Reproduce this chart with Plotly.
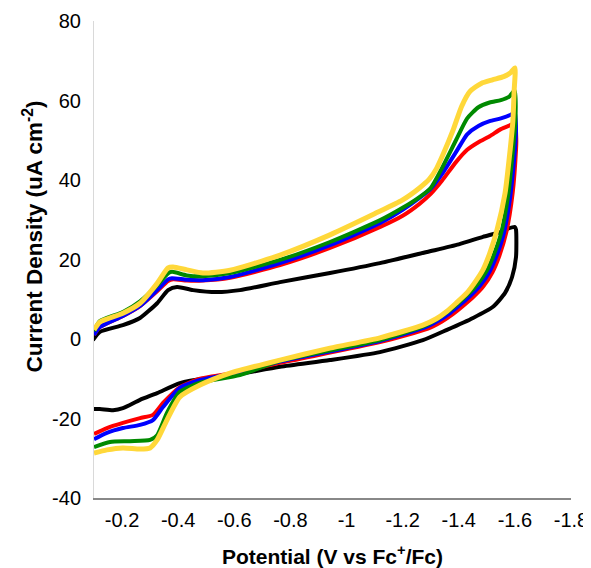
import plotly.graph_objects as go

# ---- data (potential V vs Fc+/Fc, current density uA cm^-2) ----
black_x = [-0.096, -0.121, -0.203, -0.264, -0.325, -0.364, -0.396, -0.453, -0.538, -0.620, -0.763, -0.941,
           -1.119, -1.287, -1.400, -1.486, -1.547, -1.572, -1.600,
           -1.604, -1.604, -1.590, -1.565, -1.522, -1.451, -1.358, -1.272, -1.119, -0.941, -0.763,
           -0.585, -0.503, -0.406, -0.325, -0.264, -0.203, -0.168, -0.121, -0.100]
black_y = [-0.3, 1.8, 3.5, 5.3, 9.0, 12.3, 13.1, 12.3, 11.8, 12.3, 14.3, 16.6,
           19.1, 21.9, 23.8, 25.7, 26.9, 27.7, 28.2,
           27.5, 20.6, 15.6, 11.6, 8.1, 5.3, 2.3, -0.3, -3.3, -5.3, -7.0,
           -9.2, -9.8, -11.1, -13.6, -15.3, -17.4, -17.9, -17.6, -17.6]

red_x = [-0.100, -0.121, -0.203, -0.264, -0.325, -0.364, -0.382, -0.431, -0.488, -0.585, -0.763, -0.941,
         -1.120, -1.200, -1.260, -1.300, -1.340, -1.390, -1.430, -1.470, -1.510, -1.550, -1.580, -1.600,
         -1.605, -1.604, -1.592, -1.570, -1.545, -1.520, -1.487, -1.455, -1.415, -1.380, -1.340, -1.290,
         -1.119, -0.763, -0.620, -0.478, -0.406, -0.346, -0.310, -0.264, -0.203, -0.146, -0.100]
red_y = [1.0, 3.0, 5.8, 8.3, 12.0, 14.6, 15.0, 14.7, 14.7, 15.4, 18.6, 22.9,
         28.2, 31.0, 34.0, 36.5, 39.8, 44.5, 47.6, 49.5, 51.0, 52.8, 53.7, 54.3,
         50.0, 47.5, 36.7, 27.0, 21.0, 16.8, 13.2, 10.8, 8.3, 6.3, 4.4, 2.6,
         -0.8, -6.0, -8.3, -10.0, -12.1, -16.1, -19.1, -19.9, -21.1, -22.4, -23.9]

blue_x = [-0.100, -0.121, -0.203, -0.264, -0.325, -0.364, -0.378, -0.431, -0.488, -0.585, -0.763, -0.941,
          -1.120, -1.200, -1.260, -1.300, -1.340, -1.390, -1.430, -1.470, -1.510, -1.550, -1.585, -1.600,
          -1.604, -1.600, -1.585, -1.562, -1.535, -1.510, -1.477, -1.445, -1.405, -1.370, -1.330, -1.280,
          -1.119, -0.763, -0.620, -0.478, -0.406, -0.346, -0.310, -0.264, -0.203, -0.146, -0.100]
blue_y = [1.0, 3.0, 5.8, 8.3, 12.3, 15.0, 15.3, 14.9, 14.8, 15.6, 19.1, 23.6,
          29.2, 32.5, 35.5, 37.8, 41.5, 47.0, 51.5, 53.6, 54.8, 55.5, 56.4, 57.0,
          52.0, 47.5, 36.7, 27.0, 21.0, 17.0, 13.5, 11.1, 8.6, 6.6, 4.7, 2.9,
          -0.5, -5.7, -8.3, -10.3, -12.3, -17.1, -20.4, -21.6, -22.4, -23.6, -25.2]

green_x = [-0.100, -0.121, -0.203, -0.264, -0.325, -0.364, -0.378, -0.431, -0.488, -0.585, -0.763, -0.941,
           -1.120, -1.200, -1.260, -1.300, -1.340, -1.390, -1.430, -1.470, -1.510, -1.550, -1.580, -1.600,
           -1.602, -1.593, -1.577, -1.553, -1.525, -1.500, -1.467, -1.435, -1.395, -1.360, -1.320, -1.275,
           -1.119, -0.763, -0.620, -0.478, -0.406, -0.360, -0.325, -0.300, -0.228, -0.157, -0.100]
green_y = [2.0, 4.5, 6.8, 9.5, 13.5, 16.5, 16.9, 16.0, 15.8, 16.6, 19.9, 24.4,
           29.9, 33.0, 35.7, 38.0, 43.0, 50.0, 55.5, 58.3, 59.5, 60.1, 61.0, 62.5,
           55.0, 47.5, 36.7, 27.2, 21.2, 17.2, 13.8, 11.4, 8.8, 6.8, 4.9, 3.2,
           -0.3, -5.5, -9.1, -11.0, -13.3, -18.6, -24.2, -25.4, -25.7, -25.9, -27.2]

yellow_x = [-0.100, -0.121, -0.203, -0.264, -0.325, -0.364, -0.382, -0.431, -0.488, -0.585, -0.763, -0.941,
            -1.100, -1.200, -1.260, -1.295, -1.320, -1.345, -1.380, -1.410, -1.440, -1.480, -1.520, -1.560,
            -1.585, -1.600,
            -1.597, -1.593, -1.583, -1.565, -1.536, -1.510, -1.486, -1.455, -1.429, -1.390, -1.358, -1.320,
            -1.272, -1.119, -0.941, -0.763,
            -0.585, -0.478, -0.406, -0.360, -0.325, -0.300, -0.264, -0.203, -0.146, -0.100]
yellow_y = [2.3, 4.3, 6.5, 9.0, 14.0, 17.9, 18.1, 17.4, 16.6, 17.3, 21.1, 26.2,
            31.5, 35.0, 38.0, 40.2, 42.8, 46.6, 52.6, 58.5, 62.3, 64.3, 65.2, 66.0,
            67.0, 68.2,
            62.0, 55.0, 47.5, 36.7, 27.4, 21.5, 17.4, 14.0, 11.6, 9.0, 7.0, 5.1,
            3.5, 0.3, -2.3, -5.3,
            -8.6, -11.6, -14.6, -20.4, -25.4, -27.4, -27.7, -27.4, -27.9, -28.7]

x_ticks = [-0.2, -0.4, -0.6, -0.8, -1.0, -1.2, -1.4, -1.6, -1.8]
x_labels = ["-0.2", "-0.4", "-0.6", "-0.8", "-1", "-1.2", "-1.4", "-1.6", "-1.8"]
y_ticks = [-40, -20, 0, 20, 40, 60, 80]
y_labels = ["-40", "-20", "0", "20", "40", "60", "80"]

series = [
    (black_x, black_y, "#000000", 4),
    (red_x, red_y, "#FF0000", 4),
    (blue_x, blue_y, "#0000FF", 4),
    (green_x, green_y, "#008A00", 4),
    (yellow_x, yellow_y, "#FFD83A", 5),
]

fig = go.Figure()
for xs, ys, col, w in series:
    fig.add_trace(go.Scatter(x=xs, y=ys, mode="lines",
                             line=dict(color=col, width=w, shape="spline", smoothing=0.6),
                             showlegend=False, hoverinfo="skip"))

font = "Liberation Sans, Arial, sans-serif"
fig.update_layout(
    width=583, height=560,
    margin=dict(l=86, r=20, t=13, b=70),
    paper_bgcolor="white", plot_bgcolor="white",
    font=dict(family=font, size=20, color="#000000"),
    xaxis=dict(range=[-0.1, -1.8], tickvals=x_ticks, ticktext=x_labels, automargin=False,
               showgrid=False, zeroline=False, showline=True, linecolor="#888888", linewidth=1.5,
               ticks="", ticklen=0, ticklabelstandoff=3, ticklabeloverflow="allow",
               tickfont=dict(size=20)),
    yaxis=dict(range=[-40, 80], tickvals=y_ticks, ticktext=y_labels, automargin=False,
               showgrid=False, zeroline=False, showline=True, linecolor="#D9D9D9", linewidth=1,
               ticks="", ticklen=0, ticklabelstandoff=8, ticklabeloverflow="allow",
               tickfont=dict(size=20)),
    annotations=[
        dict(text="<b>Potential (V vs Fc<sup>+</sup>/Fc)</b>", xref="paper", yref="paper",
             x=0.5, y=0, yshift=-57, xanchor="center", yanchor="middle", showarrow=False,
             font=dict(size=21, family=font)),
        dict(text="<b>Current Density (uA cm<sup>-2</sup>)</b>", xref="paper", yref="paper",
             x=0, xshift=-62, y=0.5, yshift=23, xanchor="center", yanchor="middle",
             textangle=-90, showarrow=False, font=dict(size=22.5, family=font)),
    ],
)

fig.write_html("out.html")
